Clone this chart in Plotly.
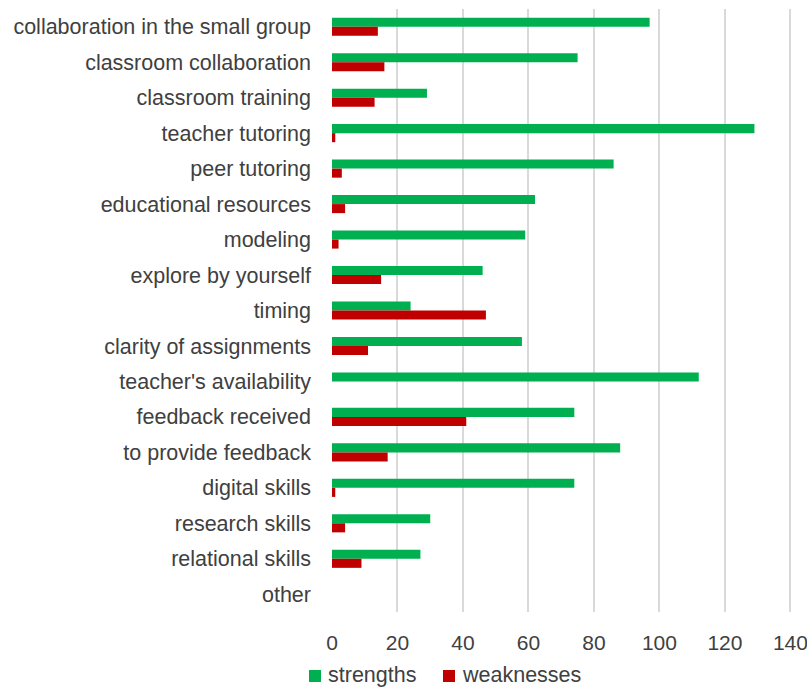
import plotly.graph_objects as go

categories = [
    "collaboration in the small group",
    "classroom collaboration",
    "classroom training",
    "teacher tutoring",
    "peer tutoring",
    "educational resources",
    "modeling",
    "explore by yourself",
    "timing",
    "clarity of assignments",
    "teacher's availability",
    "feedback received",
    "to provide feedback",
    "digital skills",
    "research skills",
    "relational skills",
    "other",
]
strengths = [97, 75, 29, 129, 86, 62, 59, 46, 24, 58, 112, 74, 88, 74, 30, 27, 0]
weaknesses = [14, 16, 13, 1, 3, 4, 2, 15, 47, 11, 0, 41, 17, 1, 4, 9, 0]
x_ticks = [0, 20, 40, 60, 80, 100, 120, 140]

FONT = "Liberation Sans, Arial, sans-serif"
TEXT = "#404040"
SIZE = 21.5
GREEN = "#00B050"
RED = "#C00000"

W, H = 807, 687
M = dict(l=332, r=10, t=9, b=75)
PW = W - M["l"] - M["r"]
PH = H - M["t"] - M["b"]


def px_x(x):
    return (x - M["l"]) / PW


def px_y(y):
    return (H - M["b"] - y) / PH


fig = go.Figure()
fig.add_trace(go.Bar(
    name="strengths", y=categories, x=strengths, orientation="h",
    marker=dict(color=GREEN, line=dict(width=0)),
))
fig.add_trace(go.Bar(
    name="weaknesses", y=categories, x=weaknesses, orientation="h",
    marker=dict(color=RED, line=dict(width=0)),
))

# legend drawn below the axis: swatch + label per series
legend_items = [("strengths", GREEN, 309), ("weaknesses", RED, 443)]
for label, color, left in legend_items:
    fig.add_shape(
        type="rect", xref="paper", yref="paper",
        x0=px_x(left), x1=px_x(left + 12), y0=px_y(682), y1=px_y(670),
        fillcolor=color, line=dict(width=0),
    )
    fig.add_annotation(
        text=label, xref="paper", yref="paper",
        x=px_x(left + 17), y=px_y(675), xanchor="left", yanchor="middle",
        showarrow=False, font=dict(family=FONT, size=SIZE, color=TEXT),
    )

fig.update_layout(
    width=W, height=H,
    margin=M,
    paper_bgcolor="white", plot_bgcolor="white",
    barmode="group", bargap=0.49, bargroupgap=0,
    font=dict(family=FONT, size=SIZE, color=TEXT),
    showlegend=False,
    xaxis=dict(
        range=[0, 142], tickvals=x_ticks, showgrid=True,
        gridcolor="#D9D9D9", gridwidth=1.5, zeroline=False,
        showline=False, ticks="", ticklabelstandoff=16,
        ticklabeloverflow="allow", automargin=False,
        tickfont=dict(family=FONT, size=21, color=TEXT),
    ),
    yaxis=dict(
        autorange="reversed", showgrid=False, zeroline=False,
        showline=False, ticks="", ticklabelstandoff=20, automargin=False,
        tickfont=dict(family=FONT, size=SIZE, color=TEXT),
    ),
)

fig.write_html("out.html")
